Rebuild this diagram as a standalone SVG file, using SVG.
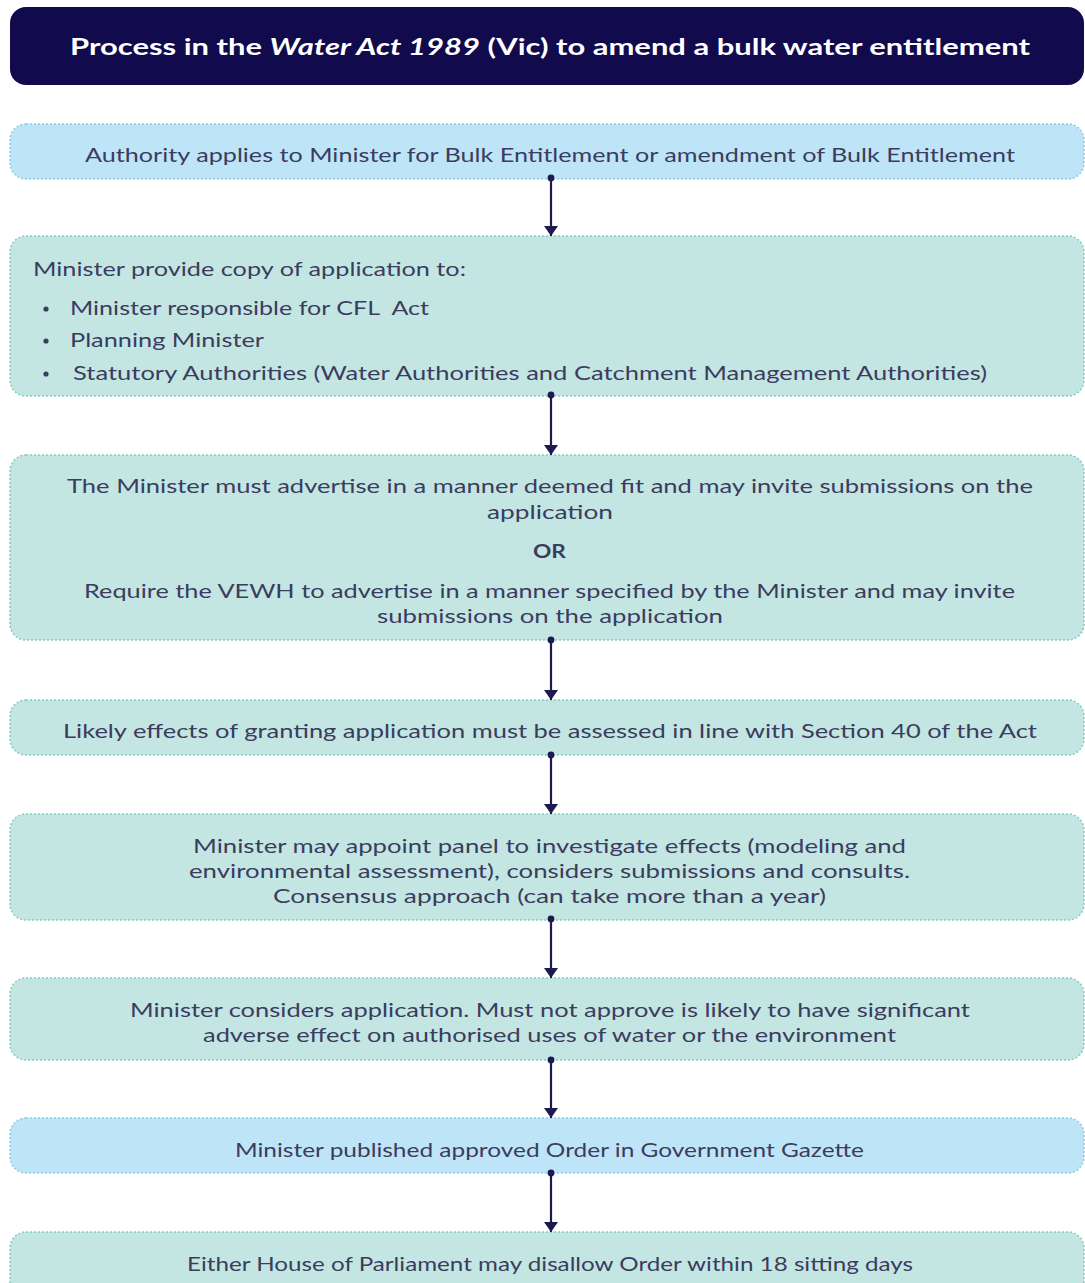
<svg xmlns="http://www.w3.org/2000/svg" width="1085" height="1283" viewBox="0 0 1085 1283">
  <defs>
    <marker id="arrowhead" markerWidth="10" markerHeight="14" refX="10" refY="7" orient="auto" markerUnits="userSpaceOnUse" viewBox="0 0 10 14">
      <path d="M0,0 L10,7 L0,14 Z" fill="#1d1a4f"/>
    </marker>
    <marker id="dot" markerWidth="8" markerHeight="8" refX="4" refY="4" markerUnits="userSpaceOnUse" viewBox="0 0 8 8">
      <circle cx="4" cy="4" r="3.4" fill="#1d1a4f"/>
    </marker>
    <style>
      .title { font-family: "Lato", "Noto Sans", "Liberation Sans", sans-serif; font-weight: 700; font-size: 23px; fill: #ffffff; }
      .txt { font-family: "Lato", "Noto Sans", "Liberation Sans", sans-serif; font-size: 19px; fill: #3b3c60; white-space: pre; }
      .bold { font-weight: 700; }
      .blue { fill: #bee5f7; stroke: #8fcde3; stroke-width: 1.5; stroke-dasharray: 2 2; }
      .teal { fill: #c3e6e2; stroke: #86cbc3; stroke-width: 1.5; stroke-dasharray: 2 2; }
      .link { stroke: #1d1a4f; stroke-width: 2.2; fill: none; marker-start: url(#dot); marker-end: url(#arrowhead); }
    </style>
  </defs>

  <rect width="1085" height="1283" fill="#ffffff"/>

  <!-- Title banner -->
  <g id="title">
    <rect x="10" y="7" width="1074" height="78" rx="16" fill="#110a4d"/>
    <text class="title" x="70" y="55" textLength="960" lengthAdjust="spacingAndGlyphs">Process in the <tspan font-style="italic">Water Act 1989</tspan> (Vic) to amend a bulk water entitlement</text>
  </g>

  <!-- Step 1 -->
  <g id="step-apply">
    <rect class="blue" x="10" y="124" width="1074" height="55" rx="16"/>
    <text class="txt" x="85" y="162" textLength="930" lengthAdjust="spacingAndGlyphs">Authority applies to Minister for Bulk Entitlement or amendment of Bulk Entitlement</text>
  </g>

  <!-- Step 2 -->
  <g id="step-copy">
    <rect class="teal" x="10" y="236" width="1074" height="160" rx="16"/>
    <text class="txt" x="33" y="276" textLength="433" lengthAdjust="spacingAndGlyphs">Minister provide copy of application to:</text>
    <circle cx="46" cy="309" r="2.6" fill="#3b3c60"/>
    <text class="txt" x="70" y="315" textLength="359" lengthAdjust="spacingAndGlyphs">Minister responsible for CFL  Act</text>
    <circle cx="46" cy="341" r="2.6" fill="#3b3c60"/>
    <text class="txt" x="70" y="347" textLength="194" lengthAdjust="spacingAndGlyphs">Planning Minister</text>
    <circle cx="46" cy="374" r="2.6" fill="#3b3c60"/>
    <text class="txt" x="73" y="380" textLength="914" lengthAdjust="spacingAndGlyphs">Statutory Authorities (Water Authorities and Catchment Management Authorities)</text>
  </g>

  <!-- Step 3 -->
  <g id="step-advertise">
    <rect class="teal" x="10" y="455" width="1074" height="185" rx="16"/>
    <text class="txt" x="67" y="493" textLength="966" lengthAdjust="spacingAndGlyphs">The Minister must advertise in a manner deemed fit and may invite submissions on the</text>
    <text class="txt" x="487" y="519" textLength="126" lengthAdjust="spacingAndGlyphs">application</text>
    <text class="txt bold" x="533" y="558" textLength="33" lengthAdjust="spacingAndGlyphs">OR</text>
    <text class="txt" x="84" y="598" textLength="931" lengthAdjust="spacingAndGlyphs">Require the VEWH to advertise in a manner specified by the Minister and may invite</text>
    <text class="txt" x="377" y="623" textLength="346" lengthAdjust="spacingAndGlyphs">submissions on the application</text>
  </g>

  <!-- Step 4 -->
  <g id="step-assess">
    <rect class="teal" x="10" y="700" width="1074" height="55" rx="16"/>
    <text class="txt" x="63" y="738" textLength="974" lengthAdjust="spacingAndGlyphs">Likely effects of granting application must be assessed in line with Section 40 of the Act</text>
  </g>

  <!-- Step 5 -->
  <g id="step-panel">
    <rect class="teal" x="10" y="814" width="1074" height="106" rx="16"/>
    <text class="txt" x="193" y="853" textLength="713" lengthAdjust="spacingAndGlyphs">Minister may appoint panel to investigate effects (modeling and</text>
    <text class="txt" x="189" y="878" textLength="721" lengthAdjust="spacingAndGlyphs">environmental assessment), considers submissions and consults.</text>
    <text class="txt" x="273" y="903" textLength="553" lengthAdjust="spacingAndGlyphs">Consensus approach (can take more than a year)</text>
  </g>

  <!-- Step 6 -->
  <g id="step-consider">
    <rect class="teal" x="10" y="978" width="1074" height="82" rx="16"/>
    <text class="txt" x="130" y="1017" textLength="840" lengthAdjust="spacingAndGlyphs">Minister considers application. Must not approve is likely to have significant</text>
    <text class="txt" x="203" y="1042" textLength="693" lengthAdjust="spacingAndGlyphs">adverse effect on authorised uses of water or the environment</text>
  </g>

  <!-- Step 7 -->
  <g id="step-gazette">
    <rect class="blue" x="10" y="1118" width="1074" height="55" rx="16"/>
    <text class="txt" x="235" y="1157" textLength="629" lengthAdjust="spacingAndGlyphs">Minister published approved Order in Government Gazette</text>
  </g>

  <!-- Step 8 -->
  <g id="step-disallow">
    <rect class="teal" x="10" y="1232" width="1074" height="70" rx="16"/>
    <text class="txt" x="187" y="1271" textLength="726" lengthAdjust="spacingAndGlyphs">Either House of Parliament may disallow Order within 18 sitting days</text>
  </g>

  <!-- Connectors between steps -->
  <g id="connectors">
    <line class="link" x1="551" y1="178" x2="551" y2="236"/>
    <line class="link" x1="551" y1="395" x2="551" y2="455"/>
    <line class="link" x1="551" y1="640" x2="551" y2="700"/>
    <line class="link" x1="551" y1="755" x2="551" y2="814"/>
    <line class="link" x1="551" y1="919" x2="551" y2="978"/>
    <line class="link" x1="551" y1="1060" x2="551" y2="1118"/>
    <line class="link" x1="551" y1="1173" x2="551" y2="1232"/>
  </g>
</svg>
